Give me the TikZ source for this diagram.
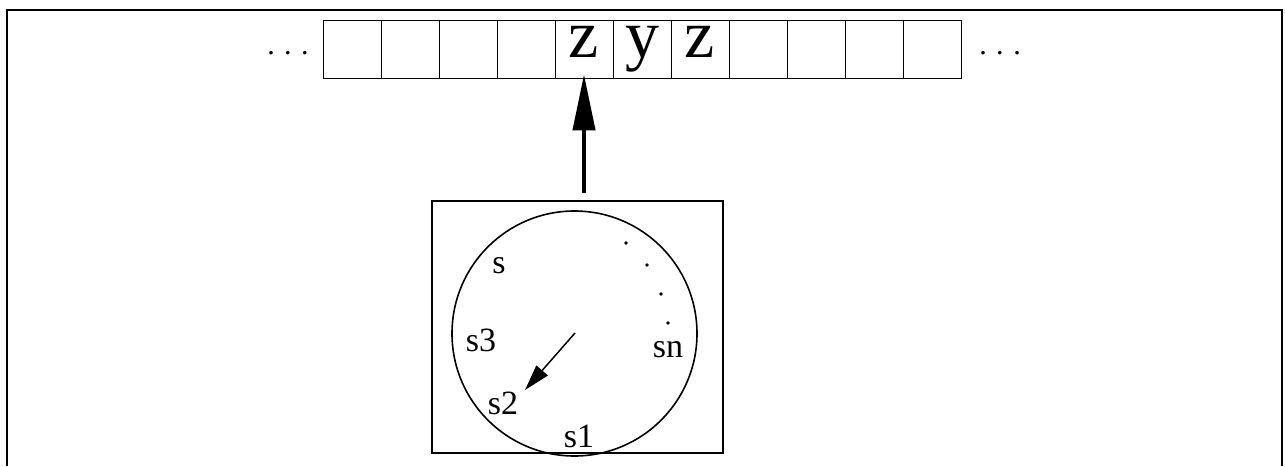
\documentclass[tikz,border=0pt]{standalone}
\usepackage{fontspec}
\setmainfont{Liberation Serif}
\usetikzlibrary{arrows.meta}
\begin{document}
\begin{tikzpicture}[x=1pt,y=-1pt,
  cell/.style={draw,line width=1.3pt,minimum width=58pt,minimum height=58pt,inner sep=0pt,anchor=north west},
  sym/.style={font=\fontsize{68}{68}\selectfont,inner sep=0pt,anchor=base},
  lbl/.style={font=\fontsize{34}{34}\selectfont,inner sep=0pt},
  dots/.style={font=\fontsize{30}{30}\selectfont,inner sep=0pt,anchor=base},
  pt/.style={fill=black,circle,inner sep=0pt,minimum size=3.6pt}]
\useasboundingbox (0,0) rectangle (1285,466);
\draw[line width=1.5pt] (7,466) -- (7,10) -- (1282,10) -- (1282,466);
% tape
\foreach \i in {0,...,10}{
  \node[cell] (c\i) at ({323+58*\i},20) {};
}
\node[sym] (t4) at ([xshift=29pt]c4.north west |- 0,57) {z};
\node[sym] (t5) at ([xshift=29pt]c5.north west |- 0,57) {y};
\node[sym] (t6) at ([xshift=29pt]c6.north west |- 0,57) {z};
\node[dots] (ld) at (288,54) {.\hspace{9.5pt}.\hspace{9.5pt}.};
\node[dots] (rd) at (1000,54) {.\hspace{9.5pt}.\hspace{9.5pt}.};
% machine
\node[draw,line width=1.2pt,minimum width=291pt,minimum height=252pt,inner sep=0pt] (box) at (577.5,327) {};
\node[draw,circle,line width=1.6pt,minimum size=245pt,inner sep=0pt] (dial) at (574.5,333.5) {};
\coordinate (astart) at (584,193);
\draw[line width=4pt,-{Triangle[length=56pt,width=22pt]}] (astart) -- ([yshift=5pt]c4.south -| astart);
\node[lbl] (s) at (499,266) {s};
\node[lbl] (s3) at (481,340) {s3};
\node[lbl] (s2) at (503,403) {s2};
\node[lbl] (s1) at (579,436) {s1};
\node[lbl] (sn) at (668,350) {sn};
\node[pt] (d1) at (626,243) {};
\node[pt] (d2) at (647,265) {};
\node[pt] (d3) at (661,294) {};
\node[pt] (d4) at (668,323) {};
\coordinate (hand) at (525,390);
\draw[line width=1.5pt,-{Triangle[length=26pt,width=15pt]}] (575,333) -- (hand);
\end{tikzpicture}
\end{document}
